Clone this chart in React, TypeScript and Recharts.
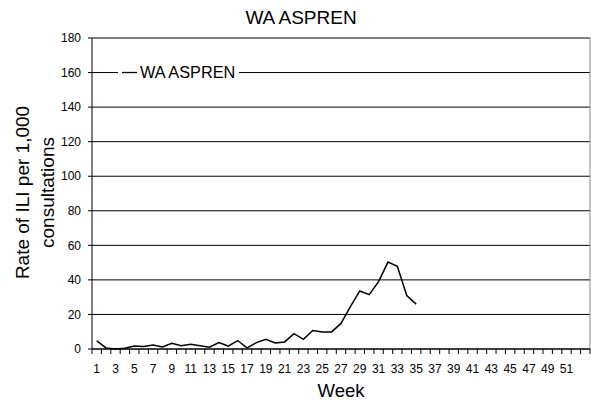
import React from "react";
import {
  LineChart,
  Line,
  XAxis,
  YAxis,
  CartesianGrid,
  Legend,
  ReferenceLine,
} from "recharts";

const weeks: number[] = Array.from({ length: 53 }, (_, i) => i + 1);
const aspren: (number | null)[] = [
  4.7, 0.6, 0, 0.4, 1.7, 1.4, 2.3, 1.2, 3.3, 1.9, 2.7, 1.9, 1.0, 3.7, 1.7, 4.9,
  0.6, 3.7, 5.6, 3.5, 4.1, 8.9, 5.6, 10.7, 9.9, 9.9, 14.8, 24.5, 33.6, 31.5, 39,
  50.3, 47.8, 30.9, 26,
];
const yTicks: number[] = [0, 20, 40, 60, 80, 100, 120, 140, 160, 180];
const seriesName = "WA ASPREN";
const chartTitle = "WA ASPREN";
const xTitle = "Week";
const yTitle1 = "Rate of ILI per 1,000";
const yTitle2 = "consultations";

const data = weeks.map((w, i) => ({
  week: w,
  value: i < aspren.length ? aspren[i] : null,
}));

const W = 591;
const H = 402;
const PLOT_LEFT = 92;
const PLOT_RIGHT = 590;
const HALF = (PLOT_RIGHT - PLOT_LEFT) / weeks.length / 2;
const FONT = "'Liberation Sans', Arial, sans-serif";

const XTick = (props: any) => {
  const { x, y, payload } = props;
  const v = payload.value as number;
  const showLabel = v % 2 === 1 && v <= 51;
  return (
    <g>
      <line x1={x - HALF} x2={x - HALF} y1={y} y2={y + 5} stroke="#000" />
      {v === weeks[weeks.length - 1] && (
        <line x1={x + HALF} x2={x + HALF} y1={y} y2={y + 5} stroke="#000" />
      )}
      {showLabel && (
        <text
          x={x}
          y={y + 24}
          textAnchor="middle"
          fontSize={12}
          fontFamily={FONT}
          fill="#000"
        >
          {v}
        </text>
      )}
    </g>
  );
};

const LegendContent = () => (
  <div
    style={{
      background: "#fff",
      display: "flex",
      alignItems: "center",
      height: 21,
      padding: "0 4px",
      fontFamily: FONT,
      fontSize: 16.3,
      color: "#000",
      whiteSpace: "nowrap",
    }}
  >
    <svg width={15} height={21} style={{ marginRight: 3 }}>
      <line x1={0} x2={15} y1={10.5} y2={10.5} stroke="#000" strokeWidth={1.3} />
    </svg>
    <span>{seriesName}</span>
  </div>
);

export default function App() {
  return (
    <div
      style={{
        position: "absolute",
        left: 0,
        top: 0,
        width: W,
        height: H,
        background: "#fff",
      }}
    >
      <LineChart
        width={W}
        height={H}
        data={data}
        margin={{ top: 38, right: 1, bottom: 23, left: 0 }}
      >
        <CartesianGrid vertical={false} stroke="#000" />
        <XAxis
          dataKey="week"
          type="number"
          domain={[0.5, 53.5]}
          ticks={weeks}
          interval={0}
          tickLine={false}
          tickSize={0}
          tickMargin={0}
          height={30}
          axisLine={{ stroke: "#000" }}
          tick={<XTick />}
        />
        <YAxis
          domain={[0, 180]}
          ticks={yTicks}
          interval={0}
          width={92}
          tickSize={4}
          tickMargin={7}
          axisLine={{ stroke: "#000" }}
          tickLine={{ stroke: "#000" }}
          tick={{ fontSize: 12, fontFamily: FONT, fill: "#000" }}
        />
        <ReferenceLine x={53.5} stroke="#888" />
        <Legend
          layout="horizontal"
          verticalAlign="middle"
          align="center"
          content={<LegendContent />}
          wrapperStyle={{
            position: "absolute",
            left: 118,
            top: 62,
            width: "auto",
            height: 21,
          }}
        />
        <Line
          type="linear"
          dataKey="value"
          name={seriesName}
          stroke="#000"
          strokeWidth={1.5}
          dot={false}
          isAnimationActive={false}
          connectNulls={false}
        />
      </LineChart>
      <svg
        width={W}
        height={H}
        style={{ position: "absolute", left: 0, top: 0, pointerEvents: "none" }}
      >
        <text
          x={301}
          y={24}
          textAnchor="middle"
          fontSize={19}
          fontFamily={FONT}
          fill="#000"
        >
          {chartTitle}
        </text>
        <text
          x={341}
          y={396.5}
          textAnchor="middle"
          fontSize={18.5}
          fontFamily={FONT}
          fill="#000"
        >
          {xTitle}
        </text>
        <text
          transform="translate(29,192.5) rotate(-90)"
          textAnchor="middle"
          fontSize={19}
          fontFamily={FONT}
          fill="#000"
        >
          {yTitle1}
        </text>
        <text
          transform="translate(54,192.5) rotate(-90)"
          textAnchor="middle"
          fontSize={19}
          fontFamily={FONT}
          fill="#000"
        >
          {yTitle2}
        </text>
      </svg>
    </div>
  );
}
